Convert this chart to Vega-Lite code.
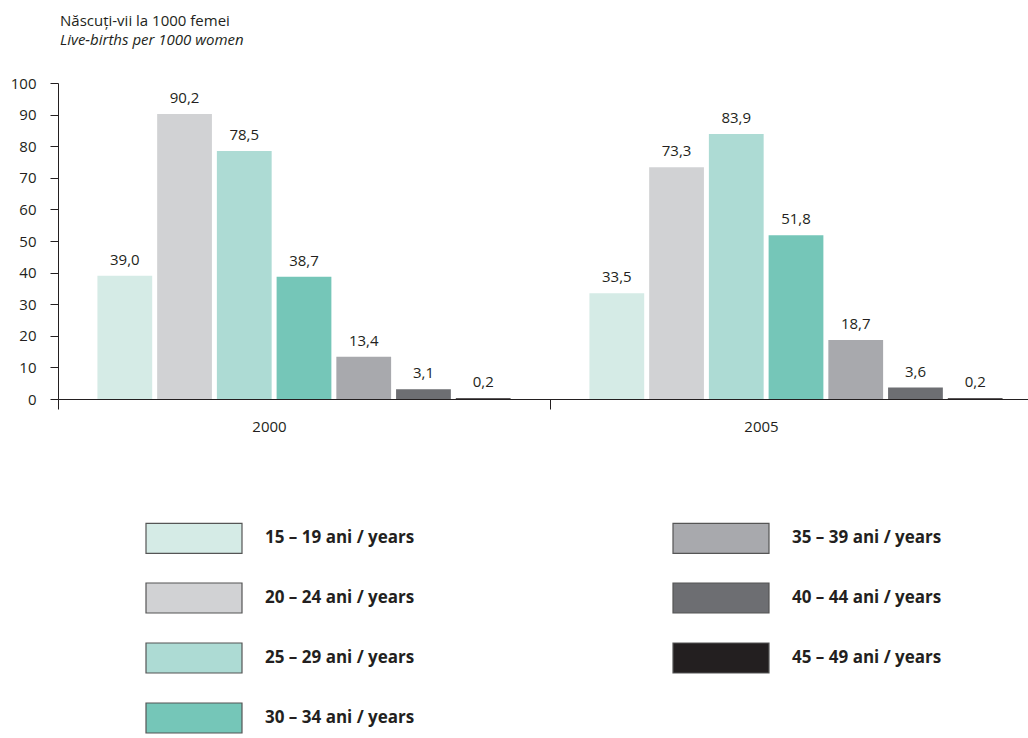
{
  "$schema": "https://vega.github.io/schema/vega-lite/v6.json",
  "width": 984,
  "height": 316,
  "padding": {"left": 10, "top": 14, "right": 0, "bottom": 0},
  "title": {
    "text": "Născuți-vii la 1000 femei",
    "subtitle": "Live-births per 1000 women",
    "anchor": "start",
    "frame": "group",
    "font": "Open Sans",
    "fontSize": 15,
    "fontWeight": "normal",
    "color": "#231f20",
    "subtitleFont": "Open Sans",
    "subtitleFontSize": 15,
    "subtitleFontStyle": "italic",
    "subtitleColor": "#231f20",
    "subtitlePadding": 4,
    "offset": 28,
    "dx": 2
  },
  "data": {
    "values": [
      {"year": "2000", "age": "15 – 19 ani / years", "value": 39.0},
      {"year": "2000", "age": "20 – 24 ani / years", "value": 90.2},
      {"year": "2000", "age": "25 – 29 ani / years", "value": 78.5},
      {"year": "2000", "age": "30 – 34 ani / years", "value": 38.7},
      {"year": "2000", "age": "35 – 39 ani / years", "value": 13.4},
      {"year": "2000", "age": "40 – 44 ani / years", "value": 3.1},
      {"year": "2000", "age": "45 – 49 ani / years", "value": 0.2},
      {"year": "2005", "age": "15 – 19 ani / years", "value": 33.5},
      {"year": "2005", "age": "20 – 24 ani / years", "value": 73.3},
      {"year": "2005", "age": "25 – 29 ani / years", "value": 83.9},
      {"year": "2005", "age": "30 – 34 ani / years", "value": 51.8},
      {"year": "2005", "age": "35 – 39 ani / years", "value": 18.7},
      {"year": "2005", "age": "40 – 44 ani / years", "value": 3.6},
      {"year": "2005", "age": "45 – 49 ani / years", "value": 0.2}
    ]
  },
  "encoding": {
    "x": {
      "field": "year",
      "type": "nominal",
      "scale": {"paddingInner": 0, "paddingOuter": 0},
      "axis": {
        "title": null,
        "labelAngle": 0,
        "tickBand": "extent",
        "domainColor": "#231f20",
        "tickColor": "#231f20",
        "tickSize": 10,
        "labelPadding": 10,
        "labelFont": "Open Sans",
        "labelFontSize": 15,
        "labelColor": "#231f20",
        "labelOffset": -35
      }
    },
    "xOffset": {
      "field": "age",
      "type": "nominal",
      "sort": ["15 – 19 ani / years", "20 – 24 ani / years", "25 – 29 ani / years", "30 – 34 ani / years", "35 – 39 ani / years", "40 – 44 ani / years", "45 – 49 ani / years"],
      "scale": {"paddingInner": 0.083, "paddingOuter": 0.66}
    },
    "y": {
      "field": "value",
      "type": "quantitative",
      "scale": {"domain": [0, 100], "nice": false},
      "axis": {
        "title": null,
        "values": [0, 10, 20, 30, 40, 50, 60, 70, 80, 90, 100],
        "grid": false,
        "domainColor": "#231f20",
        "tickColor": "#231f20",
        "tickSize": 8,
        "labelPadding": 14,
        "labelFont": "Open Sans",
        "labelFontSize": 15,
        "labelColor": "#231f20"
      }
    }
  },
  "layer": [
    {
      "mark": {"type": "bar"},
      "encoding": {
        "color": {
          "field": "age",
          "type": "nominal",
          "scale": {
            "domain": ["15 – 19 ani / years", "35 – 39 ani / years", "20 – 24 ani / years", "40 – 44 ani / years", "25 – 29 ani / years", "45 – 49 ani / years", "30 – 34 ani / years"],
            "range": ["#d5ebe6", "#a8a9ad", "#d1d2d4", "#6d6e72", "#addbd4", "#231f20", "#75c6b8"]
          },
          "legend": {
            "title": null,
            "orient": "none",
            "legendX": 105,
            "legendY": 424,
            "columns": 2,
            "direction": "horizontal",
            "columnPadding": 255,
            "rowPadding": 11,
            "padding": 0,
            "symbolType": "M-1.6,-0.5H1.6V0.5H-1.6Z",
            "symbolSize": 3600,
            "symbolStrokeColor": "#555555",
            "symbolStrokeWidth": 1.2,
            "symbolOpacity": 1,
            "labelFont": "Open Sans",
            "labelFontSize": 17,
            "labelFontWeight": "bold",
            "labelColor": "#231f20",
            "labelOffset": 40,
            "labelLimit": 300
          }
        }
      }
    },
    {
      "mark": {"type": "text", "baseline": "bottom", "dy": -8, "font": "Open Sans", "fontSize": 15, "color": "#231f20"},
      "encoding": {
        "text": {"field": "value", "type": "quantitative", "format": ".1f"}
      }
    }
  ],
  "config": {
    "view": {"stroke": null},
    "locale": {
      "number": {"decimal": ",", "thousands": ".", "grouping": [3], "currency": ["", " lei"]}
    }
  }
}
